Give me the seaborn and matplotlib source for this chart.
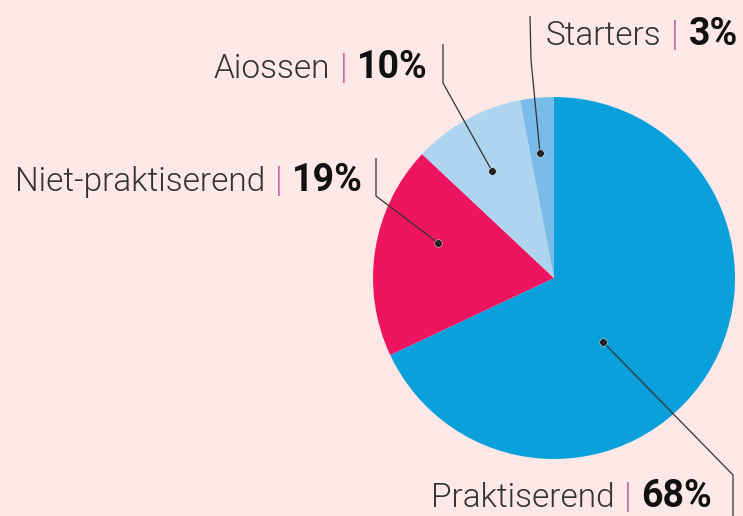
import matplotlib
matplotlib.use("Agg")
import matplotlib.pyplot as plt
import seaborn as sns

# data
labels = ["Praktiserend", "Niet-praktiserend", "Aiossen", "Starters"]
shares = [68, 19, 10, 3]
colors = ["#09a0db", "#ee1460", "#aed4ef", "#79bce9"]

BG = "#fde8e8"
PIPE = "#c86aa6"
W, H = 743, 516

# layout in pixel coords (y measured from top)
CENTER = (554, 278)
RADIUS = 181
DOTS = [(603, 342), (438, 243), (492, 171), (540, 153)]
# leader line: dot -> elbow -> end
ELBOWS = [(733, 475), (376, 196), (443, 83), (531, 60)]
ENDS = [(733, 516), (376, 158), (443, 44), (530, 16)]
# label baseline, right end of the percent
LABEL_POS = [(712, 507), (363, 191), (428, 78), (738, 45)]

sns.set_style("white")
plt.rcParams["font.family"] = ["Roboto", "DejaVu Sans"]

fig = plt.figure(figsize=(W / 100, H / 100), dpi=100, facecolor=BG)
ax = fig.add_axes([0, 0, 1, 1])
ax.set_facecolor(BG)


def py(y):
    return H - y


ax.pie(shares, colors=colors, startangle=90, counterclock=False,
       center=(CENTER[0], py(CENTER[1])), radius=RADIUS,
       wedgeprops=dict(linewidth=0), frame=True)
ax.set_xlim(0, W)
ax.set_ylim(0, H)
ax.set_aspect("equal")
ax.axis("off")

for i, (lab, val) in enumerate(zip(labels, shares)):
    dx, dy = DOTS[i]
    ex, ey = ELBOWS[i]
    nx, ny = ENDS[i]
    ax.plot([dx, ex, nx], [py(dy), py(ey), py(ny)], color="#333333",
            lw=0.9, zorder=3, solid_capstyle="butt")
    ax.scatter([dx], [py(dy)], s=30, color="#222222", zorder=4,
               edgecolors="white", linewidths=0.3)

    x1, y1 = LABEL_POS[i]
    t3 = ax.text(x1, py(y1), f"{val}%", fontsize=27, fontweight="bold",
                 color="#111111", va="baseline", ha="right")
    t2 = ax.annotate("|", xy=(0, py(y1)), xycoords=(t3, "data"),
                     xytext=(-7, 0), textcoords="offset points",
                     fontsize=25, fontweight=300, color=PIPE,
                     va="baseline", ha="right")
    ax.annotate(lab, xy=(0, py(y1)), xycoords=(t2, "data"),
                xytext=(-7, 0), textcoords="offset points",
                fontsize=24, fontweight=300, color="#333333",
                va="baseline", ha="right")

fig.savefig("out.png", dpi=100, facecolor=BG)
